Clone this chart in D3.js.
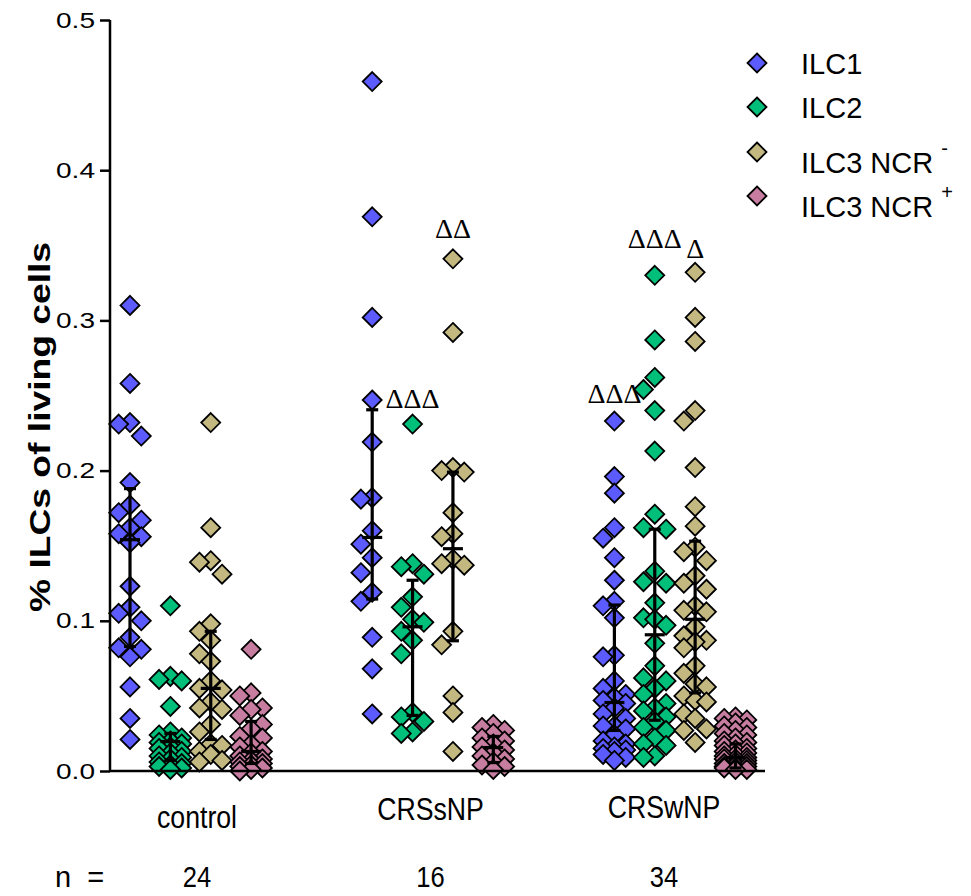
<!DOCTYPE html>
<html>
<head>
<meta charset="utf-8">
<script src="https://cdn.jsdelivr.net/npm/d3@7"></script>
<style>
  body { margin: 0; background: #fff; }
  svg { display: block; }
</style>
</head>
<body>
<script>
"use strict";

// groups and series
var groups = ["control", "CRSsNP", "CRSwNP"];
var nCounts = ["24", "16", "34"];
var seriesNames = ["ILC1", "ILC2", "ILC3 NCR", "ILC3 NCR"];
var seriesSup = ["", "", "-", "+"];
var seriesColors = ["#5b5bff", "#00bf7a", "#c3b87f", "#c67d9f"];
var yTicks = [0, 0.1, 0.2, 0.3, 0.4, 0.5];

// individual values (% ILCs of living cells)
var controlILC1 = [0.310, 0.258, 0.232, 0.231, 0.223, 0.192, 0.177, 0.172, 0.167, 0.162, 0.158, 0.156,
                   0.152, 0.123, 0.109, 0.105, 0.100, 0.089, 0.082, 0.081, 0.076, 0.056, 0.035, 0.021];
var controlILC2 = [0.110, 0.063, 0.061, 0.060, 0.043, 0.026, 0.024, 0.022, 0.020, 0.019, 0.018, 0.016,
                   0.015, 0.013, 0.012, 0.010, 0.009, 0.008, 0.006, 0.005, 0.004, 0.003, 0.002, 0.001];
var controlILC3n = [0.232, 0.162, 0.140, 0.139, 0.131, 0.098, 0.093, 0.087, 0.078, 0.073, 0.060, 0.055,
                    0.054, 0.046, 0.042, 0.041, 0.031, 0.026, 0.018, 0.017, 0.013, 0.011, 0.007, 0.006];
var controlILC3p = [0.081, 0.052, 0.050, 0.042, 0.041, 0.037, 0.031, 0.028, 0.023, 0.022, 0.018, 0.016,
                    0.013, 0.012, 0.010, 0.008, 0.007, 0.006, 0.005, 0.004, 0.003, 0.002, 0.001, 0.000];

var crssILC1 = [0.459, 0.369, 0.302, 0.247, 0.219, 0.182, 0.181, 0.160, 0.151, 0.142, 0.132, 0.119,
                0.113, 0.089, 0.068, 0.038];
var crssILC2 = [0.231, 0.138, 0.136, 0.131, 0.116, 0.109, 0.101, 0.099, 0.093, 0.087, 0.078, 0.039,
                0.036, 0.033, 0.026, 0.025];
var crssILC3n = [0.341, 0.292, 0.202, 0.200, 0.199, 0.172, 0.158, 0.156, 0.141, 0.138, 0.137, 0.093,
                 0.084, 0.050, 0.039, 0.013];
var crssILC3p = [0.031, 0.029, 0.027, 0.025, 0.022, 0.020, 0.018, 0.016, 0.014, 0.012, 0.010, 0.008,
                 0.006, 0.004, 0.003, 0.001];

var crswILC1 = [0.233, 0.196, 0.185, 0.162, 0.155, 0.142, 0.127, 0.113, 0.110, 0.102, 0.077, 0.076,
                0.060, 0.055, 0.051, 0.049, 0.047, 0.045, 0.042, 0.038, 0.035, 0.030, 0.030, 0.028,
                0.024, 0.020, 0.018, 0.016, 0.015, 0.014, 0.013, 0.011, 0.009, 0.007];
var crswILC2 = [0.330, 0.287, 0.262, 0.254, 0.240, 0.213, 0.171, 0.162, 0.161, 0.133, 0.126, 0.125,
                0.112, 0.102, 0.101, 0.097, 0.085, 0.070, 0.062, 0.060, 0.055, 0.051, 0.045, 0.042,
                0.040, 0.036, 0.033, 0.029, 0.027, 0.022, 0.018, 0.017, 0.010, 0.009];
var crswILC3n = [0.332, 0.302, 0.286, 0.240, 0.233, 0.202, 0.176, 0.163, 0.149, 0.146, 0.140, 0.130,
                 0.125, 0.121, 0.110, 0.107, 0.106, 0.096, 0.090, 0.087, 0.086, 0.082, 0.070, 0.065,
                 0.058, 0.056, 0.050, 0.047, 0.046, 0.038, 0.035, 0.028, 0.027, 0.019];
var crswILC3p = [0.036, 0.035, 0.034, 0.032, 0.030, 0.029, 0.027, 0.025, 0.024, 0.022, 0.020, 0.019,
                 0.018, 0.017, 0.015, 0.014, 0.013, 0.012, 0.011, 0.010, 0.009, 0.008, 0.008, 0.007,
                 0.006, 0.005, 0.005, 0.004, 0.003, 0.003, 0.002, 0.002, 0.001, 0.001];

// median with interquartile range, one row per group, one entry per series
var medians = [[0.154, 0.0196, 0.055, 0.013], [0.1555, 0.096, 0.148, 0.0156], [0.0456, 0.0907, 0.101, 0.009]];
var q1s     = [[0.083, 0.007, 0.021, 0.005], [0.1145, 0.037, 0.0867, 0.0056], [0.027, 0.0338, 0.052, 0.002]];
var q3s     = [[0.188, 0.025, 0.093, 0.033], [0.2405, 0.127, 0.199, 0.023], [0.1105, 0.161, 0.153, 0.018]];

// significance marks
var annGroup = [1, 1, 2, 2, 2];
var annSeries = [1, 2, 0, 1, 2];
var annText = ["\u0394\u0394\u0394", "\u0394\u0394", "\u0394\u0394\u0394", "\u0394\u0394\u0394", "\u0394"];
var annValue = [0.242, 0.355, 0.245, 0.348, 0.3415];

var values = [
    [controlILC1, controlILC2, controlILC3n, controlILC3p],
    [crssILC1, crssILC2, crssILC3n, crssILC3p],
    [crswILC1, crswILC2, crswILC3n, crswILC3p]
];

var width = 971, height = 896;
var svg = d3.select("body").append("svg")
    .attr("width", width)
    .attr("height", height);

var y = d3.scaleLinear().domain([0, 0.5]).range([771, 20]);
// one column per series, two empty columns between groups
var col = d3.scaleLinear().domain([0, 15]).range([130, 735.5]);
var labelX = d3.scalePoint().domain(groups).range([197, 664]);

var r = 9.5;
var diamond = "M0," + (-r) + "L" + r + ",0L0," + r + "L" + (-r) + ",0Z";

// spread the points sideways like a column scatter
function spread(vals, cx) {
    var step = 11.3;
    var placed = [];
    vals.slice().sort(function(a, b) { return b - a; }).forEach(function(v) {
        var py = y(v);
        var best = cx, bestScore = -1;
        [0, -1, 1].some(function(k) {
            var px = cx + k * step;
            var minD = Infinity;
            placed.forEach(function(p) {
                if (Math.abs(p.x - px) < 1) minD = Math.min(minD, Math.abs(p.y - py));
            });
            if (minD >= 16) { best = px; return true; }
            if (minD > bestScore) { bestScore = minD; best = px; }
            return false;
        });
        placed.push({x: best, y: py});
    });
    return placed;
}

// squeeze text horizontally
function narrow(sel, k) {
    sel.each(function() {
        var w = this.getComputedTextLength();
        d3.select(this).attr("textLength", w * k).attr("lengthAdjust", "spacingAndGlyphs");
    });
}

var plot = svg.append("g");

values.forEach(function(grp, gi) {
    grp.forEach(function(vals, si) {
        var cx = col(gi * 6 + si);
        plot.append("g").selectAll("path")
            .data(spread(vals, cx))
            .enter().append("path")
            .attr("d", diamond)
            .attr("transform", function(d) { return "translate(" + d.x + "," + d.y + ")"; })
            .attr("fill", seriesColors[si])
            .attr("stroke", "#000")
            .attr("stroke-width", 1.8);
    });
});

// median and IQR bars on top
var bars = plot.append("g").attr("stroke", "#000").attr("stroke-width", 3.2);
groups.forEach(function(g, gi) {
    for (var si = 0; si < 4; si++) {
        var cx = col(gi * 6 + si);
        bars.append("line").attr("x1", cx).attr("x2", cx)
            .attr("y1", y(q1s[gi][si])).attr("y2", y(q3s[gi][si]));
        [q1s[gi][si], q3s[gi][si]].forEach(function(v) {
            bars.append("line").attr("x1", cx - 6).attr("x2", cx + 6)
                .attr("y1", y(v)).attr("y2", y(v));
        });
        bars.append("line").attr("x1", cx - 10).attr("x2", cx + 10)
            .attr("y1", y(medians[gi][si])).attr("y2", y(medians[gi][si]));
    }
});

// significance marks
svg.append("g").selectAll("text")
    .data(annText)
    .enter().append("text")
    .attr("x", function(d, i) { return col(annGroup[i] * 6 + annSeries[i]); })
    .attr("y", function(d, i) { return y(annValue[i]); })
    .attr("text-anchor", "middle")
    .style("font-family", "'Liberation Serif', 'DejaVu Serif', serif")
    .style("font-size", "28px")
    .text(function(d) { return d; });

// y axis
var yAxis = svg.append("g")
    .attr("transform", "translate(110,0)")
    .call(d3.axisLeft(y).tickValues(yTicks).tickFormat(d3.format(".1f")).tickSize(10).tickPadding(5));
yAxis.select(".domain").attr("stroke-width", 2.5).attr("d", "M0," + y(0) + "V" + y(0.5));
yAxis.selectAll(".tick line").attr("stroke-width", 2.5);
yAxis.selectAll(".tick text")
    .style("font-family", "'Liberation Sans', Arial, sans-serif")
    .style("font-size", "22px")
    .attr("fill", "#000")
    .attr("textLength", 39)
    .attr("lengthAdjust", "spacingAndGlyphs");

// x axis line
svg.append("line")
    .attr("x1", 110).attr("x2", 765)
    .attr("y1", y(0)).attr("y2", y(0))
    .attr("stroke", "#000").attr("stroke-width", 2.5);

svg.append("text")
    .attr("transform", "translate(50," + 427 + ") rotate(-90)")
    .attr("text-anchor", "middle")
    .style("font-family", "'Liberation Sans Narrow', 'Liberation Sans', Arial, sans-serif")
    .style("font-weight", "bold")
    .style("font-size", "30px")
    .attr("textLength", 370)
    .attr("lengthAdjust", "spacingAndGlyphs")
    .text("%  ILCs of living cells");

// group labels and n
var labelFont = "'Liberation Sans', Arial, sans-serif";
svg.append("g").selectAll("text")
    .data(groups)
    .enter().append("text")
    .attr("x", function(d) { return labelX(d); })
    .attr("y", function(d, i) { return [828, 820, 818][i]; })
    .attr("text-anchor", "middle")
    .style("font-family", labelFont)
    .style("font-size", "31px")
    .text(function(d) { return d; })
    .call(narrow, 0.86);

svg.append("g").selectAll("text")
    .data(nCounts)
    .enter().append("text")
    .attr("x", function(d, i) { return labelX(groups[i]); })
    .attr("y", 887)
    .attr("text-anchor", "middle")
    .style("font-family", labelFont)
    .style("font-size", "29px")
    .text(function(d) { return d; })
    .call(narrow, 0.88);

svg.append("text")
    .attr("x", 55).attr("y", 887)
    .style("font-family", labelFont)
    .style("font-size", "29px")
    .attr("xml:space", "preserve")
    .text("n  =");

// legend
var legend = svg.append("g").attr("transform", "translate(757,0)");
var legendY = [63, 107, 152, 196];
var legendBase = [74, 118, 173, 217];
seriesNames.forEach(function(name, i) {
    legend.append("path")
        .attr("d", diamond)
        .attr("transform", "translate(0," + legendY[i] + ")")
        .attr("fill", seriesColors[i])
        .attr("stroke", "#000")
        .attr("stroke-width", 1.8);
    var t = legend.append("text")
        .attr("x", 44).attr("y", legendBase[i])
        .style("font-family", "'Liberation Sans', Arial, sans-serif")
        .style("font-size", "29px")
        .text(name);
    if (seriesSup[i]) {
        t.append("tspan")
            .attr("dx", 8)
            .attr("dy", -18)
            .style("font-size", "20px")
            .text(seriesSup[i]);
    }
});
</script>
</body>
</html>
